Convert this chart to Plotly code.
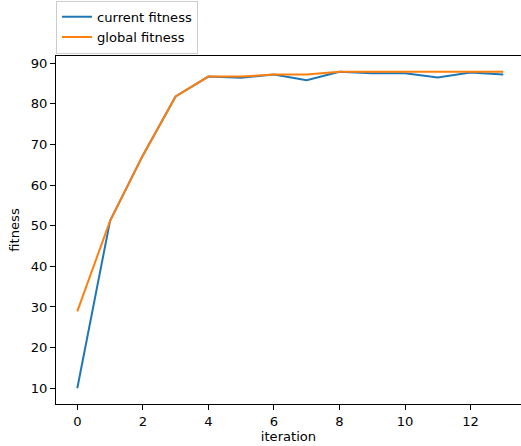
import plotly.graph_objects as go

# fitness per iteration
iterations = list(range(14))
current_fitness = [10.0, 51.2, 67.3, 81.8, 86.7, 86.4, 87.2, 85.8, 87.9, 87.5, 87.5, 86.5, 87.7, 87.2]
global_fitness = [28.9, 51.2, 67.3, 81.8, 86.7, 86.7, 87.2, 87.2, 87.9, 87.9, 87.9, 87.9, 87.9, 87.9]

FONT = "DejaVu Sans"
FS = 13.1

fig = go.Figure()
fig.add_trace(go.Scatter(x=iterations, y=current_fitness, mode="lines",
                         name="current fitness",
                         line=dict(color="#1f77b4", width=2.0)))
fig.add_trace(go.Scatter(x=iterations, y=global_fitness, mode="lines",
                         name="global fitness",
                         line=dict(color="#ff7f0e", width=2.0)))

axis_common = dict(
    showline=True, linecolor="black", linewidth=1.1,
    ticks="outside", ticklen=5, tickwidth=1.1, tickcolor="black",
    showgrid=False, zeroline=False,
    tickfont=dict(family=FONT, size=FS, color="black"),
)

fig.update_layout(
    width=521, height=446,
    margin=dict(l=56, r=0, t=56, b=42, autoexpand=False),
    paper_bgcolor="white", plot_bgcolor="white",
    font=dict(family=FONT, size=FS, color="black"),
    # the right edge of the axes runs past the canvas, so only left/top/bottom spines show
    xaxis=dict(range=[-0.65, 13.54], dtick=2, tick0=0, mirror=True,
               title=dict(text="iteration", standoff=3,
                          font=dict(family=FONT, size=FS)),
               **axis_common),
    yaxis=dict(range=[6.11, 91.77], dtick=10, tick0=0, mirror=False,
               title=dict(text="fitness", standoff=8,
                          font=dict(family=FONT, size=FS)),
               **axis_common),
    legend=dict(x=0, xanchor="left", y=1.1585, yanchor="top",
                bgcolor="rgba(255,255,255,0.8)", bordercolor="#cccccc",
                borderwidth=1, font=dict(family=FONT, size=FS),
                tracegroupgap=0),
    showlegend=True,
)

fig.write_html("out.html")
